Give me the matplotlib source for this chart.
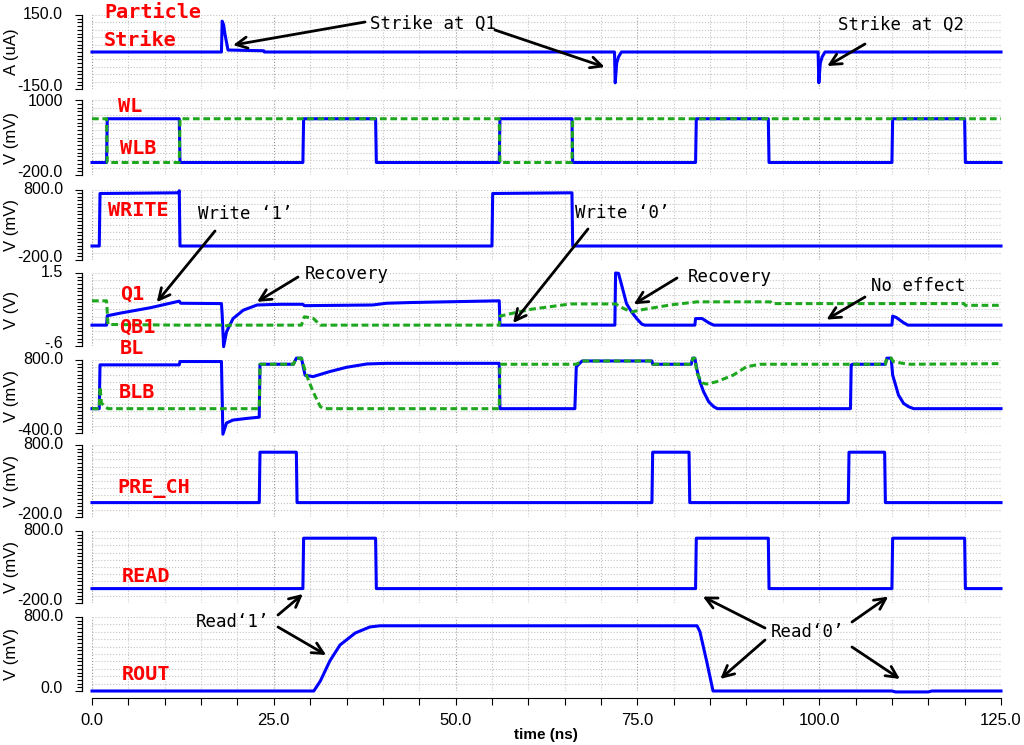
import numpy as np
import matplotlib.pyplot as plt
from matplotlib.ticker import MultipleLocator, FixedLocator

plt.rcParams['font.family'] = ['Liberation Sans', 'DejaVu Sans']

W, H = 1024, 745

# ---- waveforms (time in ns) ----
strike_t = [0, 17.8, 17.9, 18.1, 18.3, 18.7, 23.6, 23.7, 71.85, 71.95, 72.15, 72.4, 72.8,
            99.85, 99.95, 100.15, 100.4, 100.8, 125]
strike_i = [0, 0, 125, 110, 70, 8, 5, 0, 0, -125, -45, -20, 0, 0, -125, -45, -20, 0, 0]

wl_t = [0, 2, 2.1, 12, 12.1, 29, 29.1, 39, 39.1, 56, 56.1, 66, 66.1, 83, 83.1, 93, 93.1,
        110, 110.1, 120, 120.1, 125]
wl_v = [0, 0, 700, 700, 0, 0, 700, 700, 0, 0, 700, 700, 0, 0, 700, 700, 0, 0, 700, 700, 0, 0]
wlb_t = [0, 2, 2.1, 12, 12.1, 56, 56.1, 66, 66.1, 125]
wlb_v = [700, 700, 0, 0, 700, 700, 0, 0, 700, 700]

write_t = [0, 1, 1.1, 11.9, 12.0, 12.1, 55, 55.1, 66, 66.1, 125]
write_v = [0, 0, 750, 760, 790, 0, 0, 750, 760, 0, 0]

q1_t = [0, 2, 2.1, 4, 8, 12, 12.2, 17.8, 17.9, 18.1, 18.5, 19.4, 20.8, 22.7, 25.9, 29, 29.2,
        38.6, 40.5, 43.7, 56, 56.1, 71.9, 72.0, 72.4, 72.9, 73.5, 74.2, 74.9, 75.6, 76,
        82.9, 83.0, 83.9, 84.8, 85.5, 110, 110.1, 110.6, 111.6, 112.2, 125]
q1_v = [0, 0, 0.27, 0.35, 0.5, 0.69, 0.63, 0.62, 0.3, -0.62, -0.19, 0.19, 0.43, 0.58, 0.6,
        0.6, 0.56, 0.58, 0.63, 0.65, 0.7, 0, 0, 1.5, 1.49, 1.1, 0.62, 0.38, 0.19, 0.03, 0,
        0, 0.19, 0.19, 0.07, 0, 0, 0.26, 0.22, 0.07, 0, 0]
qb1_t = [0, 2, 2.2, 12, 17.8, 18.2, 18.8, 28.8, 29.2, 30.4, 31.4, 56, 56.1, 58, 60.5, 65.8,
         72, 73.1, 74.2, 75.8, 79.5, 83.2, 93.3, 93.5, 119.9, 120.1, 125]
qb1_v = [0.7, 0.7, 0.02, 0, 0, -0.04, 0, 0, 0.24, 0.2, 0, 0, 0.26, 0.35, 0.46, 0.61, 0.61,
         0.48, 0.38, 0.45, 0.58, 0.67, 0.67, 0.62, 0.62, 0.57, 0.57]

bl_t = [0, 1, 1.1, 12, 12.1, 17.8, 18.0, 18.5, 19.4, 21.3, 23, 23.1, 27.7, 28.1, 28.8, 29.3,
        30.4, 32.7, 35, 37.8, 40.5, 56, 56.1, 66.4, 66.6, 67.4, 77, 77.1, 82.4, 82.6, 82.9,
        83.2, 83.6, 84.1, 84.8, 85.5, 86, 104.3, 104.4, 104.6, 109.1, 109.3, 109.9, 110.1,
        110.5, 110.9, 111.6, 112.3, 113, 125]
bl_v = [0, 0, 720, 720, 775, 775, -420, -235, -187, -160, -140, 730, 730, 830, 830, 550,
        527, 610, 680, 735, 745, 745, 0, 0, 690, 784, 784, 730, 730, 830, 830, 636, 443,
        279, 114, 32, 0, 0, 718, 730, 730, 830, 830, 553, 389, 224, 87, 32, 0, 0]
blb_t = [0, 1.0, 1.1, 1.3, 1.6, 2.2, 23, 23.1, 27.7, 28.1, 28.8, 29.5, 30.4, 31.4, 32, 56,
         56.1, 66.4, 66.6, 67.4, 77, 77.1, 82.4, 82.6, 82.9, 83.2, 83.9, 84.5, 85.9, 88.2,
         90, 91.9, 109.1, 109.3, 109.9, 110.2, 111.5, 112.5, 125]
blb_v = [0, 0, 360, 90, 60, 0, 0, 730, 730, 830, 830, 550, 279, 32, 0, 0, 730, 730, 730,
         784, 784, 730, 730, 830, 830, 580, 426, 405, 443, 553, 690, 730, 730, 830, 830,
         772, 745, 730, 740]

prech_t = [0, 23, 23.1, 28.1, 28.2, 77, 77.1, 82.1, 82.2, 104, 104.1, 109, 109.1, 125]
prech_v = [0, 0, 700, 700, 0, 0, 700, 700, 0, 0, 700, 700, 0, 0]

read_t = [0, 29, 29.1, 39, 39.1, 83, 83.1, 93, 93.1, 110, 110.1, 120, 120.1, 125]
read_v = [0, 0, 700, 700, 0, 0, 700, 700, 0, 0, 700, 700, 0, 0]

rout_t = [0, 30.5, 31.4, 32.7, 34.1, 36.2, 38.2, 39.6, 83.2, 83.6, 84.5, 85.4, 110, 110.5,
          115, 115.5, 125]
rout_v = [0, 0, 108, 324, 497, 627, 692, 705, 705, 640, 330, 0, 0, -10, -10, 0, 0]

x_ticks = [0, 25, 50, 75, 100, 125]
x_labels = ['0.0', '25.0', '50.0', '75.0', '100.0', '125.0']

BLUE = '#0000ff'
GREEN = '#1fa81f'
RED = '#ff0000'

# panel: pixel box (top, bottom), ylim, tick labels, ylabel, series, red labels
panels = [
    ((15, 89), (-150, 150), ('-150.0', '150.0'), 'A (uA)',
     [(strike_t, strike_i, 'b')], [('Particle', 104, 12), ('Strike', 104, 40)]),
    ((100, 175), (-200, 1000), ('-200.0', '1000'), 'V (mV)',
     [(wl_t, wl_v, 'b'), (wlb_t, wlb_v, 'g')], [('WL', 118, 107), ('WLB', 120, 148)]),
    ((190, 260), (-200, 800), ('-200.0', '800.0'), 'V (mV)',
     [(write_t, write_v, 'b')], [('WRITE', 108, 210)]),
    ((273, 346), (-0.6, 1.5), ('-.6', '1.5'), 'V (V)',
     [(q1_t, q1_v, 'b'), (qb1_t, qb1_v, 'g')], [('Q1', 120, 294), ('QB1', 119, 327)]),
    ((360, 433), (-400, 800), ('-400.0', '800.0'), 'V (mV)',
     [(bl_t, bl_v, 'b'), (blb_t, blb_v, 'g')], [('BL', 120, 349), ('BLB', 119, 392)]),
    ((445, 517), (-200, 800), ('-200.0', '800.0'), 'V (mV)',
     [(prech_t, prech_v, 'b')], [('PRE_CH', 117, 489)]),
    ((531, 603), (-200, 800), ('-200.0', '800.0'), 'V (mV)',
     [(read_t, read_v, 'b')], [('READ', 122, 577)]),
    ((617, 691), (0, 800), ('0.0', '800.0'), 'V (mV)',
     [(rout_t, rout_v, 'b')], [('ROUT', 122, 675)]),
]

fig = plt.figure(figsize=(W / 100, H / 100), dpi=100)
x0, x1 = 92, 1001
axes = []
for k, (box, ylim, ylabs, ylab, series, labels) in enumerate(panels):
    top, bot = box
    ax = fig.add_axes([x0 / W, 1 - bot / H, (x1 - x0) / W, (bot - top) / H])
    ax.set_xlim(0, 125)
    ax.set_ylim(*ylim)
    for t, v, c in series:
        if c == 'b':
            ax.plot(t, v, color=BLUE, lw=2.2, clip_on=False, zorder=3)
        else:
            ax.plot(t, v, color=GREEN, lw=2.2, ls=(0, (2.2, 1.2)), clip_on=False, zorder=4)
    lo, hi = ylim
    for yy in np.linspace(lo, hi, 11):
        ax.axhline(yy, color='#c4c4c4', lw=0.8, ls=':', zorder=0)
    ax.xaxis.set_major_locator(MultipleLocator(25))
    ax.xaxis.set_minor_locator(MultipleLocator(5))
    ax.grid(axis='x', which='minor', color='#c4c4c4', lw=0.8, ls=':')
    ax.grid(axis='x', which='major', color='#9a9a9a', lw=0.8, ls=':')
    ax.yaxis.set_major_locator(FixedLocator([lo, hi]))
    ax.yaxis.set_minor_locator(FixedLocator(np.linspace(lo, hi, 21)))
    ax.tick_params(axis='y', which='major', direction='out', length=5, width=0.8,
                   labelleft=False)
    ax.tick_params(axis='y', which='minor', direction='out', length=3.5, width=0.8)
    # end labels of the y range, nudged like the original
    ytr = ax.get_yaxis_transform()
    xl = (63 - x0) / (x1 - x0)
    ax.annotate(ylabs[0], xy=(xl, lo), xycoords=ytr, xytext=(0, 2),
                textcoords='offset points', ha='right', va='center', fontsize=11.5,
                annotation_clip=False)
    ax.annotate(ylabs[1], xy=(xl, hi), xycoords=ytr, xytext=(0, -1 if k == 1 else 0.5),
                textcoords='offset points', ha='right', va='center', fontsize=11.5,
                annotation_clip=False)
    for s in ['top', 'right', 'bottom']:
        ax.spines[s].set_visible(False)
    ax.spines['left'].set_position(('outward', 7))
    ax.spines['left'].set_linewidth(0.9)
    ax.set_ylabel(ylab, fontsize=12)
    ax.yaxis.set_label_coords((19 - x0) / (x1 - x0), 0.5)
    if k < len(panels) - 1:
        ax.tick_params(axis='x', which='both', length=0, labelbottom=False)
    else:
        ax.spines['bottom'].set_visible(True)
        ax.spines['bottom'].set_position(('outward', 5))
        ax.set_xticks(x_ticks)
        ax.set_xticklabels(x_labels)
        ax.tick_params(axis='x', which='both', direction='out', length=5, width=0.8,
                       labelsize=12, pad=6)
    for txt, px, py in labels:
        fig.text(px / W, 1 - py / H, txt, color=RED, fontsize=14.5, fontweight='bold',
                 family='DejaVu Sans Mono', ha='left', va='center')
    axes.append(ax)

fig.text(546 / W, 1 - 735 / H, 'time (ns)', fontsize=11, fontweight='bold',
         ha='center', va='center')

# overlay in pixel coordinates for annotation text / arrow tails
ov = fig.add_axes([0, 0, 1, 1])
ov.set_xlim(0, W)
ov.set_ylim(H, 0)
ov.axis('off')

notes = [('Strike at Q1', 370, 24), ('Strike at Q2', 838, 25), ('Write ‘1’', 198, 214),
         ('Recovery', 305, 274), ('Write ‘0’', 575, 213), ('Recovery', 688, 277),
         ('No effect', 871, 286), ('Read‘1’', 196, 622), ('Read‘0’', 771, 632)]
for txt, px, py in notes:
    ov.text(px, py, txt, fontsize=12.5, family='DejaVu Sans Mono', ha='left', va='center')

# (panel index, head in data coords, tail in pixels)
arrows = [(0, (19.4, 28), (365, 22)), (0, (70.5, -61), (495, 30)),
          (0, (101.1, -57), (865, 44)),
          (3, (8.9, 0.66), (215, 231)), (3, (22.7, 0.67), (298, 277)),
          (3, (57.9, 0.06), (588, 229)), (3, (74.5, 0.6), (677, 278)),
          (3, (101.0, 0.16), (865, 297)),
          (6, (29.0, -75), (278, 615)), (7, (32.2, 389), (278, 627)),
          (6, (84.0, -111), (765, 628)), (7, (86.4, 130), (765, 640)),
          (6, (109.5, -111), (852, 622)), (7, (111.1, 130), (852, 647))]
for k, head, tail in arrows:
    ov.annotate('', xy=head, xycoords=axes[k].transData, xytext=tail, textcoords='data',
                arrowprops=dict(arrowstyle='->', lw=2, color='black', mutation_scale=20,
                                shrinkA=0, shrinkB=0), annotation_clip=False)

fig.savefig('out.png', dpi=100)
